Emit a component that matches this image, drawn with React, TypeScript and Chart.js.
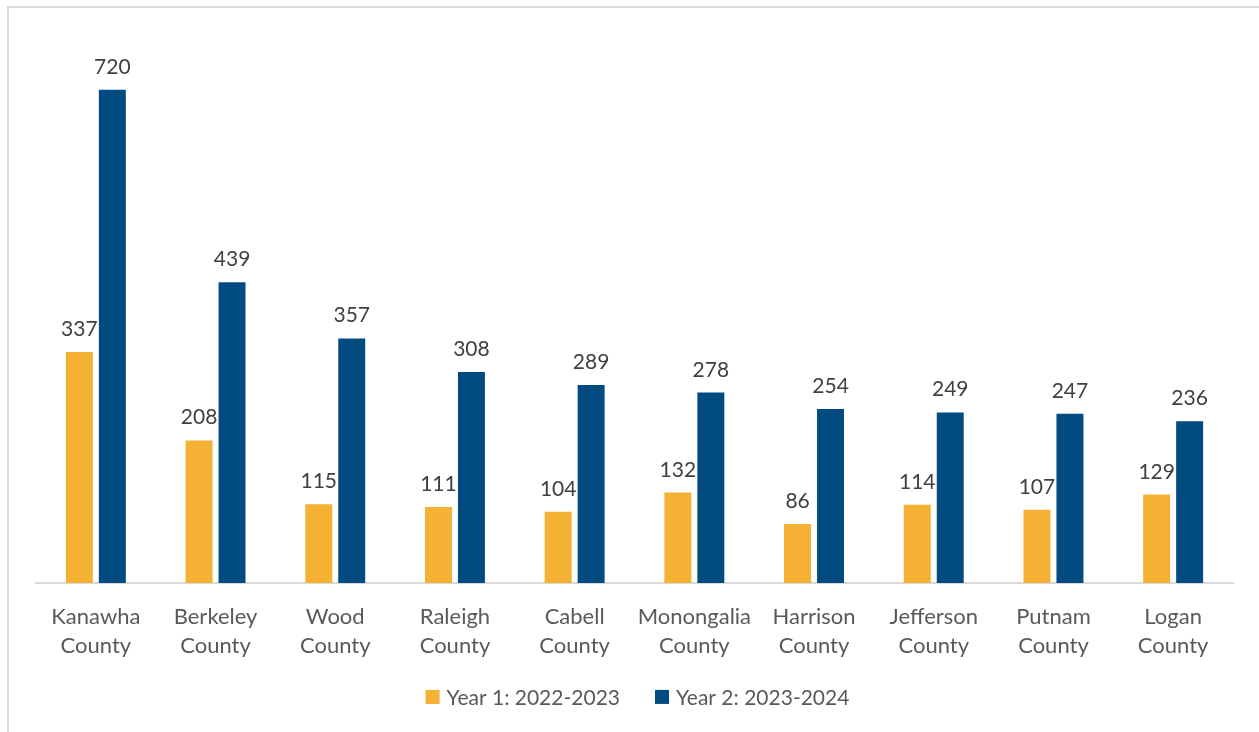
import React, { useEffect, useRef } from "react";
import { Chart, registerables } from "chart.js";

Chart.register(...registerables);

const categories: string[][] = [
  ["Kanawha", "County"],
  ["Berkeley", "County"],
  ["Wood", "County"],
  ["Raleigh", "County"],
  ["Cabell", "County"],
  ["Monongalia", "County"],
  ["Harrison", "County"],
  ["Jefferson", "County"],
  ["Putnam", "County"],
  ["Logan", "County"],
];
const year1Label = "Year 1: 2022-2023";
const year2Label = "Year 2: 2023-2024";
const year1Values = [337, 208, 115, 111, 104, 132, 86, 114, 107, 129];
const year2Values = [720, 439, 357, 308, 289, 278, 254, 249, 247, 236];

const FONT = "Lato, 'Open Sans', sans-serif";

const valueLabels = {
  id: "valueLabels",
  afterDatasetsDraw(chart: any) {
    const ctx = chart.ctx;
    ctx.save();
    ctx.font = `21px ${FONT}`;
    ctx.fillStyle = "#404040";
    ctx.textAlign = "center";
    ctx.textBaseline = "alphabetic";
    chart.data.datasets.forEach((ds: any, i: number) => {
      const meta = chart.getDatasetMeta(i);
      meta.data.forEach((el: any, j: number) => {
        ctx.fillText(String(ds.data[j]), el.x, el.y - 16);
      });
    });
    ctx.restore();
  },
};

// Legend drawn from the datasets (labels + colours), placed below the axis
const bottomLegend = {
  id: "bottomLegend",
  afterDraw(chart: any) {
    const ctx = chart.ctx;
    ctx.save();
    ctx.font = `21px ${FONT}`;
    const box = 14;
    const gap = 7;
    const itemGap = 35;
    const items = chart.data.datasets.map((ds: any) => ({
      label: ds.label,
      color: ds.backgroundColor,
      w: ctx.measureText(ds.label).width,
    }));
    const total = items.reduce((s: number, it: any) => s + box + gap + it.w, 0) + itemGap * (items.length - 1);
    const ca = chart.chartArea;
    let x = (ca.left + ca.right) / 2 + 3 - total / 2;
    const cy = ca.bottom + 114;
    ctx.textBaseline = "middle";
    ctx.textAlign = "left";
    items.forEach((it: any) => {
      ctx.fillStyle = it.color;
      ctx.fillRect(x, cy - box / 2, box, box);
      x += box + gap;
      ctx.fillStyle = "#595959";
      ctx.fillText(it.label, x, cy + 1);
      x += it.w + itemGap;
    });
    ctx.restore();
  },
};

export default function App() {
  const ref = useRef<HTMLCanvasElement | null>(null);
  useEffect(() => {
    if (!ref.current) return;
    const chart = new Chart(ref.current, {
      type: "bar",
      data: {
        labels: categories,
        datasets: [
          {
            label: year1Label,
            data: year1Values,
            backgroundColor: "#F5B133",
            categoryPercentage: 0.551,
            barPercentage: 0.818,
          },
          {
            label: year2Label,
            data: year2Values,
            backgroundColor: "#024B80",
            categoryPercentage: 0.551,
            barPercentage: 0.818,
          },
        ],
      },
      options: {
        animation: false,
        responsive: false,
        maintainAspectRatio: false,
        layout: { padding: { left: 36, right: 26, top: 35, bottom: 53 } },
        plugins: {
          legend: { display: false },
          tooltip: { enabled: false },
        },
        scales: {
          y: { display: false, min: 0, max: 800 },
          x: {
            grid: { display: false, drawTicks: false },
            border: { display: true, color: "#D9D9D9", width: 2 },
            ticks: {
              color: "#595959",
              padding: 19,
              maxRotation: 0,
              autoSkip: false,
              font: { family: FONT, size: 22, lineHeight: 1.32 },
            },
          },
        },
      },
      plugins: [valueLabels, bottomLegend],
    });
    return () => chart.destroy();
  }, []);

  return (
    <div style={{ position: "fixed", left: 0, top: 0, width: 1259, height: 732, background: "#fff", overflow: "hidden" }}>
      <div
        style={{
          position: "absolute",
          left: 7,
          top: 6,
          width: 1260,
          height: 800,
          borderLeft: "2px solid #D9D9D9",
          borderTop: "2px solid #D9D9D9",
        }}
      />
      <canvas ref={ref} width={1259} height={732} style={{ position: "absolute", left: 0, top: 0 }} />
    </div>
  );
}
